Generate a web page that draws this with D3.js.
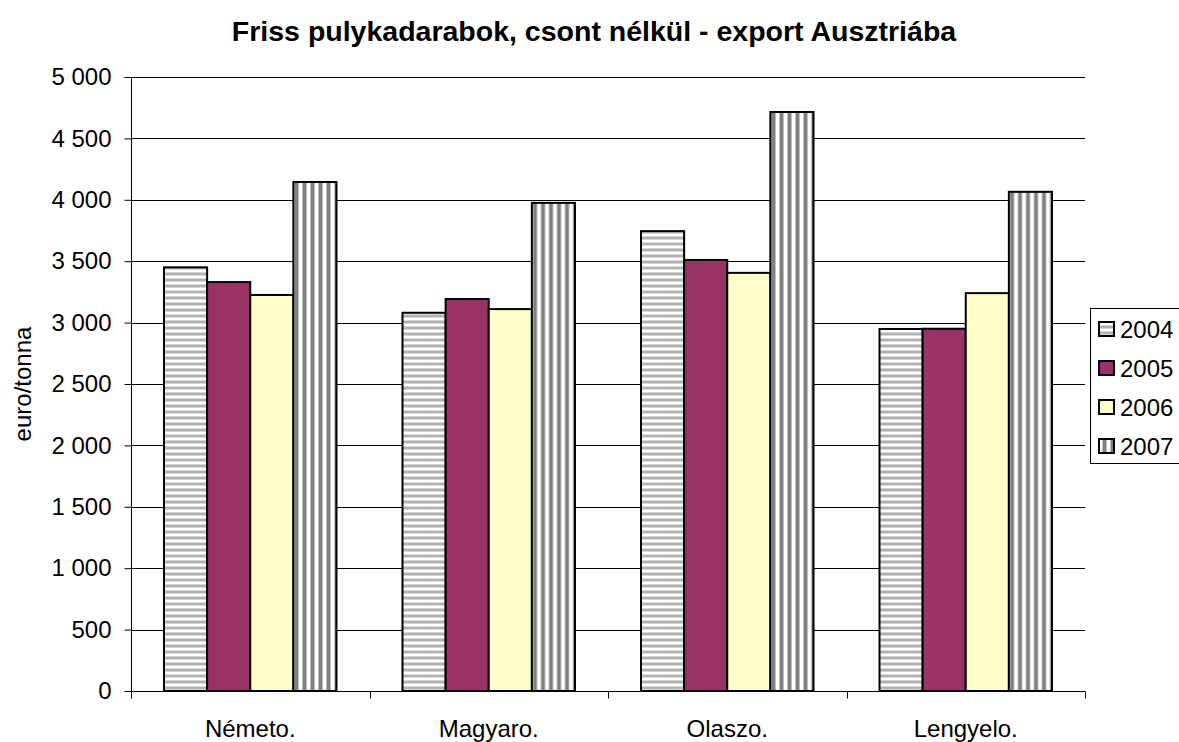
<!DOCTYPE html>
<html>
<head>
<meta charset="utf-8">
<script src="https://cdn.jsdelivr.net/npm/d3@7"></script>
<style>
  body { margin: 0; background: #fff; }
  svg { font-family: "Liberation Sans", Arial, sans-serif; }
</style>
</head>
<body>
<svg id="chart"></svg>
<script>
let categories = ["Németo.", "Magyaro.", "Olaszo.", "Lengyelo."];
let years = ["2004", "2005", "2006", "2007"];
let v2004 = [3450, 3080, 3745, 2948];
let v2005 = [3330, 3192, 3510, 2950];
let v2006 = [3225, 3110, 3405, 3240];
let v2007 = [4145, 3975, 4715, 4065];
let yTicks = [0, 500, 1000, 1500, 2000, 2500, 3000, 3500, 4000, 4500, 5000];

let series = [v2004, v2005, v2006, v2007];
let fills = ["url(#hstripe)", "#993366", "#ffffcc", "url(#vstripe)"];

let width = 1179, height = 742;
let margin = {left: 131, right: 94, top: 77, bottom: 51};

let svg = d3.select("#chart").attr("width", width).attr("height", height);

// patterns
let defs = svg.append("defs");
let hp = defs.append("pattern").attr("id", "hstripe")
    .attr("patternUnits", "userSpaceOnUse").attr("width", 6).attr("height", 6);
hp.append("rect").attr("width", 6).attr("height", 6).attr("fill", "#fff");
hp.append("rect").attr("y", 2).attr("width", 6).attr("height", 1).attr("fill", "#d9d9d9");
hp.append("rect").attr("y", 3).attr("width", 6).attr("height", 2).attr("fill", "#b2b2b2");
hp.append("rect").attr("y", 5).attr("width", 6).attr("height", 1).attr("fill", "#d9d9d9");

let vp = defs.append("pattern").attr("id", "vstripe")
    .attr("patternUnits", "userSpaceOnUse").attr("width", 8).attr("height", 8);
vp.append("rect").attr("width", 8).attr("height", 8).attr("fill", "#fff");
vp.append("rect").attr("x", 3).attr("width", 1).attr("height", 8).attr("fill", "#c0c0c0");
vp.append("rect").attr("x", 4).attr("width", 3).attr("height", 8).attr("fill", "#808080");
vp.append("rect").attr("x", 7).attr("width", 1).attr("height", 8).attr("fill", "#c0c0c0");

let x0 = d3.scaleBand().domain(categories)
    .range([margin.left, width - margin.right]).paddingInner(0).paddingOuter(0);
let x1 = d3.scaleBand().domain(years)
    .range([33, x0.bandwidth() - 33]).padding(0);
let y = d3.scaleLinear().domain([0, 5000])
    .range([height - margin.bottom, margin.top]);

let fmt = function (d) { return d3.format(",")(d).replace(",", " "); };

// gridlines
svg.append("g").selectAll("line").data(yTicks.slice(1)).enter().append("line")
    .attr("x1", margin.left).attr("x2", width - margin.right)
    .attr("y1", function (d) { return Math.round(y(d)) + 0.5; })
    .attr("y2", function (d) { return Math.round(y(d)) + 0.5; })
    .attr("stroke", "#000").attr("stroke-width", 1);

// bars
let groups = svg.append("g").selectAll("g").data(categories).enter().append("g")
    .attr("transform", function (d) { return "translate(" + x0(d) + ",0)"; });
groups.selectAll("rect")
    .data(function (d, i) { return years.map(function (yr, j) { return {yr: yr, v: series[j][i], j: j}; }); })
    .enter().append("rect")
    .attr("x", function (d) { return x1(d.yr); })
    .attr("y", function (d) { return y(d.v); })
    .attr("width", x1.bandwidth())
    .attr("height", function (d) { return y(0) - y(d.v); })
    .attr("fill", function (d) { return fills[d.j]; })
    .attr("stroke", "#000").attr("stroke-width", 2);

// y axis
let yAxis = d3.axisLeft(y).tickValues(yTicks).tickFormat(fmt).tickSize(7).tickPadding(13);
let ya = svg.append("g").attr("transform", "translate(" + (margin.left + 0.5) + ",0)").call(yAxis);
ya.selectAll("text").attr("font-size", 24).attr("fill", "#000").attr("font-family", "Liberation Sans, Arial, sans-serif");
ya.selectAll("line,path").attr("stroke", "#000");
ya.select(".domain").attr("d", "M0," + (height - margin.bottom + 7) + "V" + margin.top);

// x axis
let xa = svg.append("g").attr("transform", "translate(0," + (height - margin.bottom + 0.5) + ")");
xa.append("line").attr("x1", margin.left).attr("x2", width - margin.right).attr("stroke", "#000");
xa.selectAll("line.tick").data(categories.concat(["end"])).enter().append("line")
    .attr("class", "tick")
    .attr("x1", function (d, i) { return Math.round(margin.left + i * x0.bandwidth()) + 0.5; })
    .attr("x2", function (d, i) { return Math.round(margin.left + i * x0.bandwidth()) + 0.5; })
    .attr("y1", 0).attr("y2", 7).attr("stroke", "#000");
xa.selectAll("text").data(categories).enter().append("text")
    .attr("x", function (d) { return x0(d) + x0.bandwidth() / 2; })
    .attr("y", 45).attr("text-anchor", "middle").attr("font-size", 24).text(function (d) { return d; });

// title
svg.append("text").attr("x", 594).attr("y", 41).attr("text-anchor", "middle")
    .attr("font-size", 28.5).attr("font-weight", "bold")
    .text("Friss pulykadarabok, csont nélkül - export Ausztriába");

// y label
svg.append("text").attr("transform", "translate(31,384) rotate(-90)")
    .attr("text-anchor", "middle").attr("font-size", 24).text("euro/tonna");

// legend
let lg = svg.append("g");
lg.append("rect").attr("x", 1090.5).attr("y", 308.5).attr("width", 100).attr("height", 155)
    .attr("fill", "#fff").attr("stroke", "#000");
let items = lg.selectAll("g").data(years).enter().append("g")
    .attr("transform", function (d, i) { return "translate(1099," + (329 + i * 39) + ")"; });
items.append("rect").attr("y", -7).attr("width", 15).attr("height", 14)
    .attr("fill", function (d, i) { return fills[i]; })
    .attr("stroke", "#000").attr("stroke-width", 2);
items.append("text").attr("x", 21).attr("y", 9).attr("font-size", 24).text(function (d) { return d; });
</script>
</body>
</html>
